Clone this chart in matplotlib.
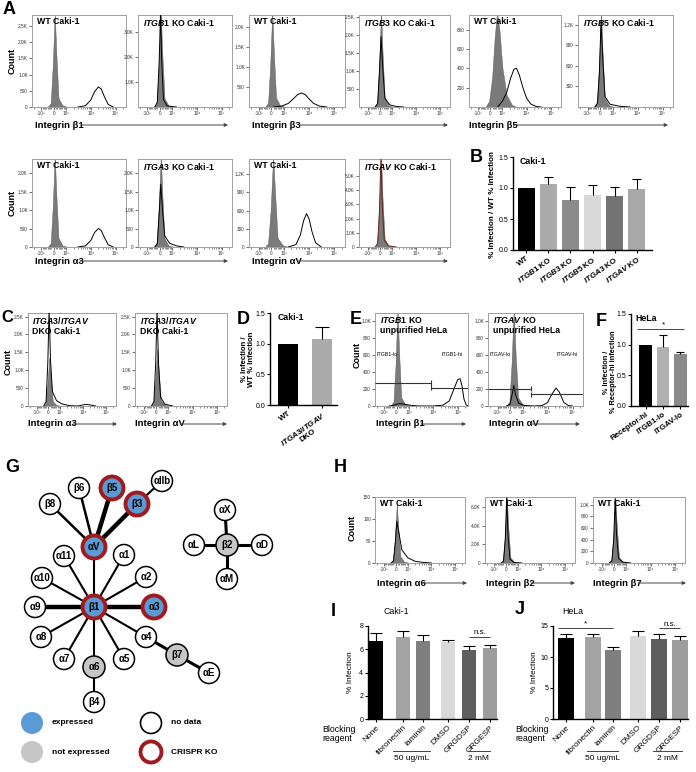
import numpy as np
import matplotlib
matplotlib.use('Agg')
import matplotlib.pyplot as plt
from matplotlib.patches import Circle
from matplotlib.ticker import SymmetricalLogLocator

plt.rcParams['font.family'] = ['Liberation Sans', 'DejaVu Sans']
plt.rcParams['mathtext.fontset'] = 'custom'
plt.rcParams['mathtext.it'] = 'Liberation Sans:italic:bold'
plt.rcParams['mathtext.rm'] = 'Liberation Sans:bold'
plt.rcParams['mathtext.bf'] = 'Liberation Sans:bold'

# ---------------- flow histograms (fluorescence, count) ----------------
xtick_vals = [-1000, 0, 1000, 10000, 100000]
xtick_labels = ['-10³', '0', '10³', '10⁴', '10⁵']

# A, top row
a1_fill = [(-500, 0), (-250, 120), (-80, 1300), (80, 2900), (200, 1700), (380, 280), (700, 50), (1200, 0)]
a1_line = [(3000, 0), (6000, 40), (10000, 220), (14000, 470), (20000, 620), (26000, 560), (35000, 320), (50000, 80), (80000, 0)]
a2_fill = [(-500, 0), (-250, 150), (-80, 1600), (80, 3800), (200, 2200), (380, 350), (700, 60), (1200, 0)]
a2_line = [(-400, 0), (-200, 200), (-50, 1800), (60, 3800), (160, 1800), (300, 300), (600, 40), (1500, 0)]
a3_fill = [(-500, 0), (-250, 100), (-80, 1050), (80, 2400), (200, 1400), (380, 230), (700, 40), (1200, 0)]
a3_line = [(200, 0), (800, 20), (1500, 90), (2500, 220), (3500, 310), (5000, 350), (7000, 310), (10000, 200), (15000, 90), (25000, 25), (50000, 0)]
a4_fill = [(-500, 0), (-250, 110), (-80, 1150), (80, 2650), (200, 1550), (380, 250), (700, 45), (1200, 0)]
a4_line = [(-400, 0), (-200, 100), (-50, 1000), (80, 1950), (220, 1100), (400, 250), (800, 60), (1500, 15), (3000, 0)]
a5_fill = [(-400, 0), (-100, 60), (150, 300), (350, 700), (550, 980), (750, 800), (1000, 400), (1500, 120), (2500, 20), (4000, 0)]
a5_line = [(600, 0), (1000, 60), (1500, 150), (2200, 300), (3000, 390), (3800, 400), (5000, 330), (7000, 200), (10000, 90), (15000, 30), (25000, 5), (40000, 0)]
a6_fill = [(-500, 0), (-250, 60), (-80, 600), (80, 1400), (200, 800), (380, 130), (700, 25), (1200, 0)]
a6_line = [(-400, 0), (-200, 60), (-50, 500), (80, 1250), (220, 700), (400, 150), (800, 40), (2000, 10), (5000, 0)]
# A, bottom row
a7_fill = [(-500, 0), (-250, 100), (-80, 1100), (80, 2500), (200, 1450), (380, 240), (700, 40), (1200, 0)]
a7_line = [(3000, 0), (6000, 30), (10000, 180), (14000, 390), (20000, 500), (26000, 450), (35000, 260), (50000, 60), (80000, 0)]
a8_fill = [(-500, 0), (-250, 100), (-80, 1100), (80, 2500), (200, 1450), (380, 240), (700, 40), (1200, 0)]
a8_line = [(-400, 0), (-200, 100), (-50, 900), (80, 1700), (220, 1000), (400, 300), (800, 100), (1500, 30), (3000, 0)]
a9_fill = [(-500, 0), (-250, 60), (-50, 600), (150, 1500), (300, 900), (500, 150), (900, 30), (1500, 0)]
a9_line = [(1500, 0), (3000, 40), (4500, 200), (6000, 430), (7900, 550), (10000, 460), (13000, 250), (18000, 70), (30000, 0)]
a10_fill = [(-500, 0), (-250, 250), (-80, 2700), (80, 6400), (200, 3500), (380, 550), (700, 100), (1200, 0)]
a10_line = [(-400, 0), (-200, 250), (-50, 2600), (70, 6300), (180, 3000), (350, 500), (700, 80), (1500, 0)]
# C
c1_fill = [(-500, 0), (-250, 60), (-80, 600), (80, 1350), (200, 800), (380, 130), (700, 25), (1200, 0)]
c1_line = [(-400, 0), (-200, 120), (-50, 1200), (60, 2700), (180, 1300), (350, 400), (700, 150), (1200, 60), (2500, 10), (6000, 0), (9000, 25), (14000, 45), (20000, 30), (35000, 0)]
c2_fill = [(-500, 0), (-250, 70), (-80, 700), (80, 1600), (200, 950), (380, 150), (700, 30), (1200, 0)]
c2_line = [(-400, 0), (-200, 120), (-50, 1200), (60, 2700), (180, 1200), (350, 250), (700, 50), (1500, 0)]
# E
e1_fill = [(-500, 0), (-250, 50), (-80, 480), (80, 1150), (200, 650), (380, 100), (700, 20), (1200, 0)]
e1_line = [(-600, 0), (-200, 10), (200, 28), (600, 22), (1200, 8), (2500, 0), (10000, 0), (25000, 10), (45000, 60), (70000, 200), (100000, 310), (125000, 320), (150000, 230), (180000, 80), (220000, 15), (262000, 0)]
e2_fill = [(-300, 0), (-50, 50), (120, 480), (300, 1150), (450, 600), (650, 100), (1000, 20), (1600, 0)]
e2_line = [(-300, 0), (0, 20), (150, 120), (300, 240), (450, 130), (700, 30), (1200, 5), (3000, 0), (6000, 5), (10000, 40), (15000, 140), (22000, 210), (30000, 160), (45000, 40), (70000, 5), (100000, 0)]
e1_gates = [(-2400, 8000, 270), (8000, 262144, 215)]
e2_gates = [(-2400, 2100, 200), (2100, 262144, 135)]
# H
h1_fill = [(-500, 0), (-250, 5), (-80, 55), (80, 135), (200, 80), (380, 15), (700, 3), (1200, 0)]
h1_line = [(-400, 0), (-200, 5), (-50, 45), (80, 95), (250, 70), (500, 30), (1000, 12), (2000, 4), (5000, 1), (10000, 0)]
h2_fill = [(-500, 0), (-250, 250), (-80, 3000), (80, 7300), (200, 4000), (380, 600), (700, 100), (1200, 0)]
h2_line = [(-400, 0), (-200, 200), (-50, 2500), (70, 7000), (180, 3000), (350, 400), (700, 60), (1500, 0)]
h3_fill = [(-500, 0), (-250, 40), (-80, 450), (80, 1150), (200, 650), (380, 100), (700, 20), (1200, 0)]
h3_line = [(-400, 0), (-200, 40), (-50, 400), (70, 1100), (180, 500), (350, 80), (700, 15), (1500, 0)]

# ---------------- bar charts ----------------
b_labels = ['WT', '$\\it{ITGB1}$ KO', '$\\it{ITGB3}$ KO', '$\\it{ITGB5}$ KO', '$\\it{ITGA3}$ KO', '$\\it{ITGAV}$ KO']
b_vals = [1.0, 1.06, 0.81, 0.88, 0.87, 0.99]
b_errs = [0, 0.11, 0.20, 0.17, 0.14, 0.15]
b_colors = ['#000000', '#ababab', '#8c8c8c', '#d9d9d9', '#737373', '#a8a8a8']

d_labels = ['WT', '$\\it{ITGA3/ITGAV}$\nDKO']
d_vals = [1.0, 1.08]
d_errs = [0, 0.19]
d_colors = ['#000000', '#ababab']

f_labels = ['Receptor-hi', 'ITGB1-lo', 'ITGAV-lo']
f_vals = [1.0, 0.97, 0.85]
f_errs = [0, 0.19, 0.03]
f_colors = ['#000000', '#b0b0b0', '#8a8a8a']

ij_labels = ['None', 'fibronectin', 'laminin', 'DMSO', 'GRGDSP', 'GRGESP']
ij_pos = [0, 1.35, 2.35, 3.6, 4.65, 5.7]
ij_colors = ['#000000', '#a3a3a3', '#7f7f7f', '#d9d9d9', '#5e5e5e', '#9d9d9d']
i_vals = [6.7, 7.05, 6.7, 6.6, 5.95, 6.08]
i_errs = [0.7, 0.5, 0.55, 0.2, 0.33, 0.3]
j_vals = [13.0, 13.3, 11.1, 13.4, 12.85, 12.75]
j_errs = [0.7, 0.4, 0.55, 0.8, 0.85, 0.6]

# ---------------- integrin network (G) ----------------
g_names = ['β1', 'αV', 'α3', 'β5', 'β3', 'αIIb', 'β6', 'β8', 'α11', 'α1', 'α10', 'α2', 'α9',
           'α8', 'α4', 'α7', 'α6', 'α5', 'β4', 'β7', 'αE', 'β2', 'αX', 'αL', 'αD', 'αM']
g_x = [94, 94, 154, 112, 137, 162, 79, 50, 64, 124, 42, 146, 35, 41, 146, 64, 94, 124, 94, 177, 209, 227, 225, 194, 262, 227]
g_y = [607, 547, 607, 488, 504, 481, 488, 504, 556, 555, 578, 577, 607, 637, 637, 659, 667, 659, 702, 655, 673, 545, 510, 545, 545, 579]
g_state = ['e', 'e', 'e', 'e', 'e', 'o', 'o', 'o', 'o', 'o', 'o', 'o', 'o',
           'o', 'o', 'o', 'n', 'o', 'o', 'n', 'o', 'n', 'o', 'o', 'o', 'o']
g_ko = ['β1', 'αV', 'α3', 'β5', 'β3']
g_edges = [('β1', 'αV', 1.5), ('β1', 'α11', 1.5), ('β1', 'α1', 1.5), ('β1', 'α10', 1.5), ('β1', 'α2', 1.5),
           ('β1', 'α9', 3.2), ('β1', 'α3', 3.2), ('β1', 'α8', 1.5), ('β1', 'α4', 1.5), ('β1', 'α7', 1.5),
           ('β1', 'α6', 1.5), ('β1', 'α5', 1.5), ('α6', 'β4', 1.5), ('α4', 'β7', 2.2), ('β7', 'αE', 2.2),
           ('αV', 'β8', 1.8), ('αV', 'β6', 1.8), ('αV', 'β5', 3.2), ('αV', 'β3', 3.2), ('β3', 'αIIb', 1.5),
           ('β2', 'αX', 2.2), ('β2', 'αL', 2.2), ('β2', 'αD', 2.2), ('β2', 'αM', 2.2)]

BLUE, GREY, RED = '#5b9bd5', '#c6c6c6', '#9e1b20'

W, H = 696, 772
fig = plt.figure(figsize=(W / 100, H / 100), dpi=100)


def rect(x0, y0, x1, y1):
    return [x0 / W, 1 - y1 / H, (x1 - x0) / W, (y1 - y0) / H]


def klabel(v):
    if v == 0:
        return '0'
    return f'{v / 1000:.1f}K' if v >= 1000 else str(v)


def flow(box, fill, line, ytop, yticks, title, line_color='k'):
    ax = fig.add_axes(rect(*box))
    ax.set_xscale('symlog', linthresh=1000, linscale=0.45)
    fx, fy = zip(*fill)
    ax.fill_between(fx, fy, color='#7a7a7a', edgecolor='#555555', lw=0.3, zorder=2)
    lx, ly = zip(*line)
    ax.plot(lx, ly, color=line_color, lw=0.7, zorder=3)
    ax.set_xlim(-2400, 262144)
    ax.set_ylim(0, ytop)
    ax.set_xticks(xtick_vals)
    ax.set_xticklabels(xtick_labels)
    ax.xaxis.set_minor_locator(SymmetricalLogLocator(linthresh=1000, base=10, subs=np.arange(2, 10)))
    ax.set_yticks(yticks)
    ax.set_yticklabels([klabel(v) for v in yticks])
    ax.tick_params(labelsize=3.4, length=2, width=0.5, pad=1, colors='#333333')
    ax.tick_params(which='minor', length=1.2, width=0.4, colors='#333333')
    for s in ax.spines.values():
        s.set_color('#a0a0a0')
        s.set_linewidth(0.7)
    ax.text(0.05, 0.975, title, transform=ax.transAxes, va='top', ha='left',
            fontsize=6.3, fontweight='bold', linespacing=1.05, zorder=5)
    return ax


def bars(box, pos, vals, errs, colors, labels, ytop, yticks, xlim, width, rot, lsize, lweight, cap):
    ax = fig.add_axes(rect(*box))
    ax.bar(pos, vals, width=width, color=colors, zorder=2)
    for p, v, e in zip(pos, vals, errs):
        if e > 0:
            ax.vlines(p, v, v + e, color='k', lw=0.8, zorder=3)
            ax.hlines(v + e, p - cap, p + cap, color='k', lw=0.8, zorder=3)
    ax.set_xlim(*xlim)
    ax.set_ylim(0, ytop)
    ax.set_yticks(yticks)
    ax.set_xticks(pos)
    ax.set_xticklabels(labels, rotation=rot, ha='right', rotation_mode='anchor',
                       fontsize=lsize, fontweight=lweight, multialignment='center')
    ax.tick_params(axis='y', labelsize=5, length=2.5, width=0.8, pad=1)
    ax.tick_params(axis='x', length=2, width=0.8, pad=1.5)
    for s in ['top', 'right']:
        ax.spines[s].set_visible(False)
    for s in ['left', 'bottom']:
        ax.spines[s].set_linewidth(1.0)
    return ax


# ---- A ----
flow((32, 15, 126, 107), a1_fill, a1_line, 2840, [0, 500, 1000, 1500, 2000, 2500], 'WT Caki-1')
flow((138, 15, 232, 107), a2_fill, a2_line, 3700, [1000, 2000, 3000], '$\\it{ITGB1}$ KO Caki-1')
flow((249, 15, 345, 107), a3_fill, a3_line, 2300, [500, 1000, 1500, 2000], 'WT Caki-1')
flow((359, 15, 450, 107), a4_fill, a4_line, 2550, [500, 1000, 1500, 2000, 2500], '$\\it{ITGB3}$ KO Caki-1')
flow((469, 15, 561, 107), a5_fill, a5_line, 950, [200, 400, 600, 800], 'WT Caki-1')
flow((578, 15, 673, 107), a6_fill, a6_line, 1340, [300, 600, 900, 1200], '$\\it{ITGB5}$ KO Caki-1')
flow((32, 159, 126, 247), a7_fill, a7_line, 2380, [0, 500, 1000, 1500, 2000], 'WT Caki-1')
flow((138, 159, 232, 247), a8_fill, a8_line, 2380, [0, 500, 1000, 1500, 2000], '$\\it{ITGA3}$ KO Caki-1')
flow((249, 159, 345, 247), a9_fill, a9_line, 1450, [0, 300, 600, 900, 1200], 'WT Caki-1')
flow((359, 159, 450, 247), a10_fill, a10_line, 6200, [0, 1000, 2000, 3000, 4000, 5000], '$\\it{ITGAV}$ KO Caki-1',
     line_color='#6b2418')

# ---- C ----
flow((28, 313, 116, 406), c1_fill, c1_line, 2600, [0, 500, 1000, 1500, 2000, 2500], '$\\it{ITGA3/ITGAV}$\nDKO Caki-1')
flow((135, 313, 227, 406), c2_fill, c2_line, 2600, [0, 500, 1000, 1500, 2000, 2500], '$\\it{ITGA3/ITGAV}$\nDKO Caki-1')

# ---- E ----
for box, fill, line, gates, title, gname in [
        ((375, 313, 468, 406), e1_fill, e1_line, e1_gates, '$\\it{ITGB1}$ KO\nunpurified HeLa', 'ITGB1'),
        ((488, 313, 583, 406), e2_fill, e2_line, e2_gates, '$\\it{ITGAV}$ KO\nunpurified HeLa', 'ITGAV')]:
    ax = flow(box, fill, line, 1090, [0, 200, 400, 600, 800, 1000], title)
    for (x0, x1, y), ends in zip(gates, [(False, True), (True, False)]):
        ax.hlines(y, x0, x1, color='#333333', lw=0.8, zorder=4)
        for xe, on in zip((x0, x1), ends):
            if on:
                ax.vlines(xe, y - 30, y + 30, color='#333333', lw=0.8, zorder=4)
    ax.text(-2100, 600, gname + '-lo', fontsize=3.8, va='center', ha='left')
    ax.text(22000, 600, gname + '-hi', fontsize=3.8, va='center', ha='left')

# ---- H ----
flow((375, 497, 465, 563), h1_fill, h1_line, 150, [0, 50, 100, 150], 'WT Caki-1')
flow((485, 497, 575, 563), h2_fill, h2_line, 7100, [0, 2000, 4000, 6000], 'WT Caki-1')
flow((593, 497, 685, 563), h3_fill, h3_line, 1130, [0, 200, 400, 600, 800, 1000], 'WT Caki-1')

# ---- B ----
axb = bars((513, 157, 652, 250), range(6), b_vals, b_errs, b_colors, b_labels, 1.5, [0, 0.5, 1.0, 1.5],
           (-0.61, 5.7), 0.75, 35, 5.8, 'bold', 0.22)
axb.set_yticklabels(['0.0', '0.5', '1.0', '1.5'])
axb.text(0.05, 1.0, 'Caki-1', transform=axb.transAxes, fontsize=6.3, fontweight='bold', va='top')

# ---- D ----
axd = bars((270, 313, 337, 405), range(2), d_vals, d_errs, d_colors, d_labels, 1.5, [0, 0.5, 1.0, 1.5],
           (-0.55, 1.45), 0.6, 35, 5.8, 'bold', 0.2)
axd.set_yticklabels(['0.0', '0.5', '1.0', '1.5'])
axd.text(0.12, 1.0, 'Caki-1', transform=axd.transAxes, fontsize=6.3, fontweight='bold', va='top')

# ---- F ----
axf = bars((631, 314, 688, 406), range(3), f_vals, f_errs, f_colors, f_labels, 1.5, [0, 0.5, 1.0, 1.5],
           (-0.86, 2.45), 0.75, 35, 5.8, 'bold', 0.22)
axf.set_yticklabels(['0.0', '0.5', '1.0', '1.5'])
axf.text(0.08, 1.0, 'HeLa', transform=axf.transAxes, fontsize=6.3, fontweight='bold', va='top')
axf.hlines(1.25, -0.5, 2.2, color='#444444', lw=0.7)
axf.text(1.0, 1.27, '*', ha='center', va='bottom', fontsize=6)

# ---- I ----
axi = bars((368, 626, 497, 719), ij_pos, i_vals, i_errs, ij_colors, ij_labels, 8, [0, 2, 4, 6, 8],
           (-0.4, 6.05), 0.7, 45, 6, 'normal', 0.3)
axi.hlines(7.05, ij_pos[4], ij_pos[5], color='#444444', lw=0.7)
axi.text((ij_pos[4] + ij_pos[5]) / 2, 7.15, 'n.s.', ha='center', va='bottom', fontsize=5.8)

# ---- J ----
axj = bars((553, 626, 688, 719), ij_pos, j_vals, j_errs, ij_colors, ij_labels, 15, [0, 5, 10, 15],
           (-0.65, 6.1), 0.8, 45, 6, 'normal', 0.3)
axj.hlines(14.6, -0.4, ij_pos[2], color='#444444', lw=0.7)
axj.text(1.0, 14.7, '*', ha='center', va='bottom', fontsize=6)
axj.hlines(14.6, ij_pos[4], ij_pos[5], color='#444444', lw=0.7)
axj.text((ij_pos[4] + ij_pos[5]) / 2, 14.75, 'n.s.', ha='center', va='bottom', fontsize=5.8)

# ---------------- overlay: labels, arrows, network ----------------
ov = fig.add_axes([0, 0, 1, 1])
ov.set_xlim(0, W)
ov.set_ylim(H, 0)
ov.axis('off')
ov.set_zorder(10)

for letter, x, y, fs in [('A', 3, 10, 13), ('B', 470, 157, 13), ('C', 1, 318, 12), ('D', 237, 320, 13),
                         ('E', 350, 320, 13), ('F', 596, 322, 13), ('G', 5, 468, 13), ('H', 334, 468, 13),
                         ('I', 331, 611, 13), ('J', 515, 610, 13)]:
    ov.text(x, y, letter, fontsize=fs, fontweight='bold', va='center', ha='left')

for x, y in [(12, 61), (12, 203), (8, 362), (357, 355), (352, 528)]:
    ov.text(x, y, 'Count', rotation=90, fontsize=6.5, fontweight='bold', ha='center', va='center')

arrows = [('Integrin β1', 35, 125, 82, 228), ('Integrin β3', 252, 125, 300, 448), ('Integrin β5', 469, 125, 514, 668),
          ('Integrin α3', 35, 261, 80, 228), ('Integrin αV', 252, 261, 298, 448),
          ('Integrin α3', 28, 424, 73, 117), ('Integrin αV', 135, 424, 180, 227),
          ('Integrin β1', 376, 424, 421, 466), ('Integrin αV', 489, 424, 531, 580),
          ('Integrin α6', 377, 583, 422, 467), ('Integrin β2', 486, 583, 531, 575), ('Integrin β7', 593, 583, 638, 686)]
for lab, tx, y, x0, x1 in arrows:
    ov.text(tx, y, lab, fontsize=6.8, fontweight='bold', va='center', ha='left')
    ov.annotate('', xy=(x1, y), xytext=(x0, y),
                arrowprops=dict(arrowstyle='-|>', color='#444444', lw=0.7, mutation_scale=5, shrinkA=0, shrinkB=0))

# bar-chart y labels
ov.text(493, 205, '% Infection / WT % Infection', rotation=90, fontsize=5.8, fontweight='bold', ha='center', va='center')
ov.text(248, 359, '% Infection /\nWT % Infection', rotation=90, fontsize=5.6, fontweight='bold', ha='center',
        va='center', linespacing=1.05)
ov.text(610, 372, '% Infection /\n% Receptor-hi infection', rotation=90, fontsize=5.3, fontweight='bold',
        ha='center', va='center', linespacing=1.05)
ov.text(350, 672, '% Infection', rotation=90, fontsize=6, ha='center', va='center')
ov.text(535, 672, '% Infection', rotation=90, fontsize=6, ha='center', va='center')
ov.text(383, 612, 'Caki-1', fontsize=6.3, va='center')
ov.text(562, 612, 'HeLa', fontsize=6.3, va='center')
for x in (322, 515):
    ov.text(x, 734, 'Blocking\nreagent', fontsize=6.3, va='center', ha='left', linespacing=1.1)
for x0, x1, lab in [(393, 430, '50 ug/mL'), (468, 490, '2 mM'), (587, 618, '50 ug/mL'), (653, 682, '2 mM')]:
    ov.plot([x0, x1], [751, 751], color='#444444', lw=0.7)
    ov.text((x0 + x1) / 2, 759, lab, fontsize=6, ha='center', va='center')

# network
pos = {n: (x, y) for n, x, y in zip(g_names, g_x, g_y)}
for a, b, w in g_edges:
    ov.plot([pos[a][0], pos[b][0]], [pos[a][1], pos[b][1]], color='k', lw=w, zorder=2, solid_capstyle='butt')
for n, x, y, st in zip(g_names, g_x, g_y, g_state):
    face = {'e': BLUE, 'n': GREY, 'o': 'white'}[st]
    if n in g_ko:
        ov.add_patch(Circle((x, y), 11.5, facecolor=face, edgecolor=RED, lw=2.8, zorder=3))
    else:
        ov.add_patch(Circle((x, y), 10.5 if st == 'o' else 11, facecolor=face, edgecolor='k', lw=1.1, zorder=3))
    ov.text(x, y, n, fontsize=7, fontweight='bold', ha='center', va='center', zorder=4)

ov.add_patch(Circle((32, 723), 11, facecolor=BLUE, edgecolor='none'))
ov.add_patch(Circle((32, 752), 11, facecolor=GREY, edgecolor='none'))
ov.add_patch(Circle((151, 723), 10.5, facecolor='white', edgecolor='k', lw=1.2))
ov.add_patch(Circle((151, 752), 10.5, facecolor='white', edgecolor=RED, lw=2.8))
for x, y, t in [(52, 723, 'expressed'), (52, 752, 'not expressed'), (171, 723, 'no data'), (171, 752, 'CRISPR KO')]:
    ov.text(x, y, t, fontsize=6, fontweight='bold', va='center', ha='left')

fig.savefig('out.png', dpi=100)
